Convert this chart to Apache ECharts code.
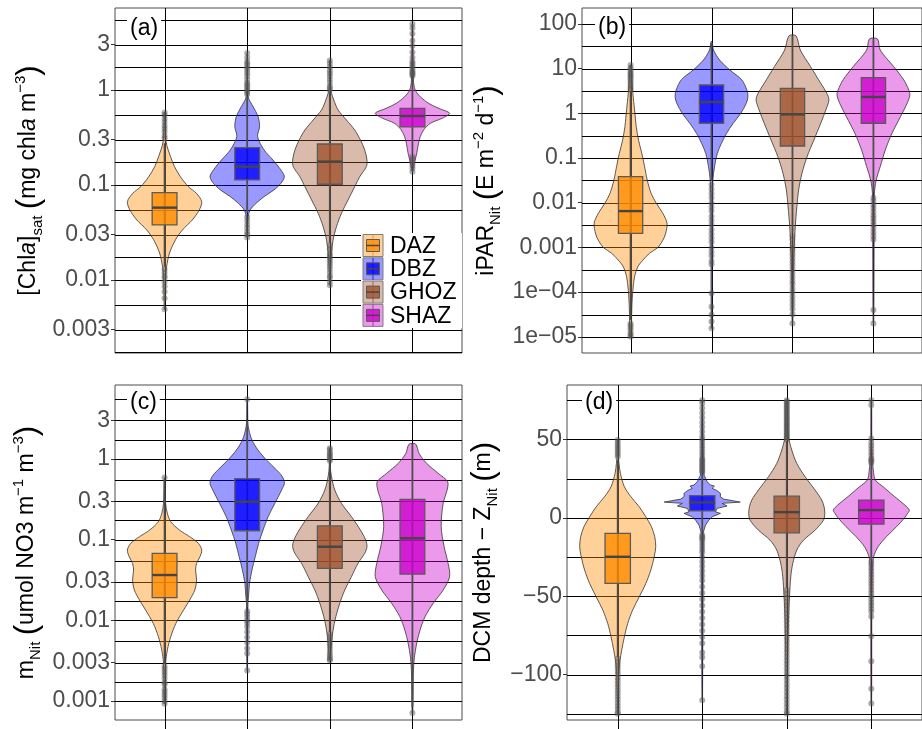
<!DOCTYPE html>
<html><head><meta charset="utf-8">
<script src="https://cdn.jsdelivr.net/npm/echarts@6/dist/echarts.min.js"></script>
<style>html,body{margin:0;padding:0;background:#fff}#c{width:922px;height:729px}</style>
</head><body><div id="c"></div>
<script>
// ---------------- DATA ----------------
const zones = ['DAZ', 'DBZ', 'GHOZ', 'SHAZ'];
const categories = [1, 2, 3, 4];

// (a) [Chla]sat : violin profiles [value, relative width]
const chlaViolinDAZ = [[0.0049,0.3],[0.0108,1],[0.0137,2],[0.0192,5],[0.0264,11],[0.0336,18],[0.0428,28],[0.0546,35],[0.0667,37.5],[0.0818,32],[0.096,24],[0.122,16],[0.156,10],[0.199,6],[0.286,1.5],[0.58,0.3]];
const chlaViolinDBZ = [[0.028,0.3],[0.0464,1],[0.0546,3],[0.0641,9],[0.0753,17],[0.0886,27],[0.104,34],[0.122,37.5],[0.144,34],[0.183,26],[0.234,17],[0.322,10.5],[0.411,12.5],[0.524,11],[0.667,6],[0.85,1],[2.45,0.3]];
const chlaViolinGHOZ = [[0.0088,0.3],[0.0138,0.7],[0.0191,1.7],[0.0264,3.3],[0.0364,6.7],[0.0504,11.7],[0.0695,18.3],[0.096,25],[0.122,30],[0.156,36.7],[0.183,37.3],[0.234,35],[0.298,30.7],[0.379,25],[0.483,16.7],[0.616,8.3],[0.785,4],[0.923,1.7],[1.08,0.5],[2.05,0.3]];
const chlaViolinSHAZ = [[0.138,0.3],[0.156,1],[0.183,2.7],[0.216,4.3],[0.275,6],[0.322,7.7],[0.379,11],[0.446,17.7],[0.503,29.3],[0.568,36.7],[0.641,26],[0.724,16],[0.85,7.7],[1.0,2.7],[1.27,1],[4.95,0.3]];
// boxes: [lower whisker, q1, median, q3, upper whisker]
const chlaBoxes = [[0.0138,0.0379,0.0577,0.083,0.275],[0.0508,0.113,0.156,0.247,0.85],[0.0245,0.1017,0.176,0.270,0.96],[0.217,0.408,0.532,0.641,1.33]];
const chlaOutDAZ = [0.31,0.33,0.36,0.39,0.42,0.46,0.5,0.55,0.58,0.013,0.012,0.011,0.0105,0.0095,0.0085,0.0075,0.0064,0.0049];
const chlaOutDBZ = [0.9,0.95,1.0,1.05,1.1,1.15,1.2,1.3,1.4,1.5,1.6,1.7,1.8,1.9,2.0,2.2,2.45,0.046,0.042,0.038,0.035,0.032,0.03,0.028];
const chlaOutGHOZ = [1.0,1.05,1.1,1.2,1.3,1.4,1.5,1.6,1.75,1.9,2.05,0.023,0.021,0.019,0.018,0.017,0.016,0.015,0.014,0.013,0.012,0.011,0.0105,0.0095,0.0088];
const chlaOutSHAZ = [1.4,1.45,1.5,1.55,1.6,1.7,1.8,1.9,2.0,2.2,2.5,2.9,3.3,3.9,4.5,4.95,0.2,0.19,0.18,0.17,0.16,0.15,0.138];
const chlaTickValues = [0.003,0.01,0.03,0.1,0.3,1,3];
const chlaTickLabels = ['0.003','0.01','0.03','0.1','0.3','1','3'];
const chlaMinorValues = [0.00173,0.00548,0.0173,0.0548,0.173,0.548,1.73,5.48];
const chlaRange = [0.0017,7.3];

// (b) iPAR_Nit
const iparViolinDAZ = [[1.0e-5,0.5],[4.7e-5,1.3],[1.1e-4,2.3],[2.2e-4,4],[3.7e-4,7.3],[5.2e-4,12.3],[7.4e-4,19],[1.0e-3,27.3],[1.45e-3,32.3],[2.0e-3,35],[3.5e-3,36.5],[5.8e-3,32.3],[9.8e-3,25.7],[0.016,20.7],[0.032,16.7],[0.065,14],[0.126,11.3],[0.25,8],[0.5,5.7],[1.2,4],[2.8,2.3],[5.6,1.3],[9.3,0.7],[12,0.3]];
const iparViolinDBZ = [[1.55e-5,0.3],[0.0115,0.7],[0.032,1.3],[0.065,3],[0.127,5.7],[0.213,9.7],[0.356,14.7],[0.6,21.3],[1.0,28.7],[1.67,34],[2.36,35.7],[3.3,34.7],[5.6,29.7],[9.3,18],[15.5,8],[26,2],[40,0.5]];
const iparViolinGHOZ = [[2e-5,0.3],[9.3e-5,0.7],[3.7e-4,1],[1.04e-3,1.7],[2.9e-3,2.7],[8.1e-3,4.3],[0.0192,6],[0.0454,9.3],[0.107,14.3],[0.253,21],[0.6,27.7],[1.19,32.7],[2.0,35.7],[2.8,33.7],[4.7,27.7],[11.1,17.7],[26,7.7],[54,3.5]];
const iparViolinSHAZ = [[2e-5,0.3],[0.00145,0.7],[0.0049,0.7],[0.0162,1],[0.032,2.7],[0.064,6.7],[0.151,11.7],[0.356,18.3],[0.84,26.7],[1.67,33.3],[2.57,36],[3.3,35],[5.6,30],[11.1,20],[26,6.7],[46,4]];
const iparBoxes = [[2.4e-5,0.00206,0.0065,0.0382,3.1],[0.031,0.6,1.79,4.3,37],[0.0021,0.186,0.95,3.6,54],[0.017,0.6,2.32,6.3,46]];
const iparOutDAZ = [3.4,3.8,4.3,4.8,5.4,6,6.6,7.2,7.8,8.5,9.5,10.5,12,2.0e-5,1.8e-5,1.6e-5,1.4e-5,1.2e-5,1.1e-5,1.0e-5];
const iparOutDBZ = [0.025,0.02,0.016,0.013,0.01,0.008,0.0065,0.005,0.004,0.0032,0.0025,0.002,0.0016,0.0013,0.001,8e-4,6.5e-4,5e-4,4.2e-4,9.5e-5,4.7e-5,3.1e-5,2.2e-5,1.55e-5];
const iparOutGHOZ = [0.0018,0.0015,0.0012,0.001,8.5e-4,7e-4,5.8e-4,4.8e-4,4e-4,3.3e-4,2.7e-4,2.2e-4,1.8e-4,1.5e-4,1.2e-4,1e-4,8e-5,6.5e-5,5.2e-5,4.2e-5,3.2e-5,2e-5];
const iparOutSHAZ = [0.013,0.011,0.009,0.0075,0.0062,0.0052,0.0045,0.0038,0.0032,0.0027,0.0022,0.0018,0.0015,4e-5,2e-5];
const iparTickValues = [1e-5,1e-4,0.001,0.01,0.1,1,10,100];
const iparTickLabels = ['1e\u221205','1e\u221204','0.001','0.01','0.1','1','10','100'];
const iparMinorValues = [3.16e-5,3.16e-4,3.16e-3,0.0316,0.316,3.16,31.6];
const iparRange = [4.35e-6,227];

// (c) m_Nit
const mnitViolinDAZ = [[9.3e-4,0.3],[0.0029,1],[0.0043,2.7],[0.0063,6],[0.0092,11],[0.0134,18.3],[0.0179,24.3],[0.0238,29.3],[0.0316,31],[0.0421,30],[0.0509,31],[0.0617,34.3],[0.0745,36],[0.0902,32.7],[0.109,24.3],[0.132,14.3],[0.167,6],[0.212,2.7],[0.282,1],[0.59,0.3]];
const mnitViolinDBZ = [[0.0024,0.3],[0.0163,0.7],[0.0196,1.3],[0.0288,2.3],[0.0421,4.7],[0.0617,8],[0.0902,11.3],[0.132,15.7],[0.193,20.7],[0.282,27.3],[0.413,34],[0.499,36.7],[0.604,34.7],[0.731,29],[0.973,19],[1.29,10.7],[1.72,4.7],[2.29,1.7],[2.77,0.7],[5.5,0.3]];
const mnitViolinGHOZ = [[0.0032,0.3],[0.0035,0.7],[0.0052,1.7],[0.0076,3.3],[0.0111,6],[0.0163,10],[0.0238,15],[0.0348,21.7],[0.0509,28.3],[0.0677,35],[0.0818,37.3],[0.099,36],[0.132,30.7],[0.193,21.7],[0.282,11.7],[0.413,5],[0.604,1.7],[0.804,0.5],[1.36,0.3]];
const mnitViolinSHAZ = [[7.1e-4,0.3],[0.00137,0.7],[0.0024,1],[0.0035,2],[0.0052,4.3],[0.0076,7.7],[0.0111,12.7],[0.0163,21],[0.0238,31],[0.0348,37.5],[0.0509,36],[0.0818,32],[0.145,29],[0.282,31],[0.413,35],[0.524,35.5],[0.664,26],[0.883,14.3],[1.17,6.7],[1.53,3.3]];
const mnitBoxes = [[0.0029,0.0191,0.0365,0.0677,0.55],[0.0145,0.129,0.296,0.57,3.0],[0.0072,0.0442,0.0818,0.148,0.9],[8.5e-4,0.0375,0.104,0.316,1.53]];
const mnitOutDAZ = [0.59,0.0027,0.0025,0.0023,0.0021,0.0019,0.0017,0.0016,0.0014,0.0013,0.0012,0.0011,0.001,0.00093];
const mnitOutDBZ = [5.5,0.013,0.012,0.011,0.01,0.0092,0.0083,0.0072,0.0062,0.0053,0.0045,0.0039,0.0024];
const mnitOutGHOZ = [0.95,1.0,1.05,1.1,1.15,1.2,1.3,1.36,0.0068,0.0062,0.0057,0.0052,0.0048,0.0044,0.004,0.0037,0.0035,0.0033,0.0032];
const mnitOutSHAZ = [7.1e-4];
const mnitTickValues = [0.001,0.003,0.01,0.03,0.1,0.3,1,3];
const mnitTickLabels = ['0.001','0.003','0.01','0.03','0.1','0.3','1','3'];
const mnitMinorValues = [0.00173,0.00548,0.0173,0.0548,0.173,0.548,1.73,5.48];
const mnitRange = [5.83e-4,8.26];

// (d) DCM depth - Z_Nit
const dcmViolinDAZ = [[-124.9,0.3],[-118.5,0.3],[-107.9,0.7],[-97.3,1.3],[-90.9,2.3],[-84.5,4],[-76,6.7],[-67.5,10],[-58.9,15],[-50.4,21.7],[-41.9,28.3],[-33.4,33.3],[-24.9,36.7],[-18.5,38.3],[-12.1,37.3],[-5.7,34],[0.6,28.3],[7.0,21.7],[13.4,13.3],[19.8,6.7],[28.3,2.7],[34.7,1.3],[38.9,0.7],[49.6,0.3]];
const dcmViolinDBZ = [[-116.4,0.3],[-10,1],[-7.9,1.7],[-4.7,3.3],[-1.5,6.7],[0.6,10],[2.8,18.3],[3.8,13.3],[6.0,15],[7.5,25],[9.2,20],[10.0,38.3],[11.9,21.7],[13.4,18.3],[15.6,18.3],[17.3,15],[18.8,10],[20.2,12.3],[20.9,8.3],[23.0,5],[27,2],[30.5,1.2],[75,0.3]];
const dcmViolinGHOZ = [[-124.9,0.3],[-107.9,0.7],[-86.6,1],[-65.3,1.7],[-50.4,2.7],[-37.7,4],[-29.2,6],[-20.6,10],[-14.3,16.7],[-7.9,28.3],[-1.5,36.7],[2.8,38],[7.0,37.3],[11.3,35],[17.7,28.3],[26.2,18.3],[34.7,10],[43.2,5],[51.7,1.7],[62.4,1],[75.1,0.5]];
const dcmViolinSHAZ = [[-118.5,0.3],[-60,0.5],[-44,0.7],[-33.4,1],[-24.9,2.3],[-18.5,6.7],[-12.1,15],[-5.7,25],[0,33],[2.8,36],[4.9,37.7],[8.1,33.3],[13.4,23.3],[19.8,11.7],[24.1,4],[30.4,2],[40,0.8],[50,0.5],[75,0.3]];
const dcmBoxes = [[-89,-41.9,-24.9,-10,37],[-10,4.4,9.8,14.1,28],[-44.7,-9.6,3.6,13.8,48.9],[-27,-4.0,4.9,11.3,34]];
const dcmOutDAZ = [39,40.5,42,43.5,45,46.5,48,49.6,-90,-92,-94,-96,-98,-100,-102,-104,-106,-108,-110,-112,-114,-116,-118,-120,-122,-124,-125];
const dcmOutDBZ = [29,30,31,32,33,34,35,36,37,38,40,42,44,46,48,50,52,55,58,61,64,67,70,73,75,-11,-12,-13,-14,-16,-18,-20,-22,-25,-28,-31,-34,-37,-40,-44,-48,-52,-56,-60,-64,-68,-72,-76,-80,-86,-89,-94.7,-116.4];
const dcmOutGHOZ = [50,51,52,53,54,55,56,57,58,59,60,61,62,63,64,65,66,67,68,69,70,71,72,73,74,75,-46,-48.5,-51,-53.5,-56,-58.5,-61,-63.5,-66,-68.5,-71,-73.5,-76,-78.5,-81,-83.5,-86,-88.5,-91,-93.5,-96,-98.5,-101,-103.5,-106,-108.5,-111,-113.5,-116,-118.5,-121,-123.5,-125];
const dcmOutSHAZ = [35,36,37,38,40,42,44,46,48,50.6,72,75,-28,-30,-32,-34,-36,-38,-40,-42,-44,-46,-48,-50,-52,-54,-56,-58,-60,-63,-75.5,-91.5,-109,-118.5];
const dcmTickValues = [-100,-50,0,50];
const dcmTickLabels = ['\u2212100','\u221250','0','50'];
const dcmMinorValues = [-125,-75,-25,25,75];
const dcmRange = [-129,84.7];

// ---------------- STYLE ----------------
const FONT = 'Liberation Sans, Arial, Helvetica, sans-serif';
const zoneRGB = [[255,140,0],[0,0,255],[160,82,45],[205,0,205]];
const rgba = (k, a) => 'rgba(' + zoneRGB[k].join(',') + ',' + a + ')';
const VIOLIN_HALF = 0.45, BOX_HALF = 0.15, XMIN = 0.4, XMAX = 4.6;

const richName = {
  t: {fontSize: 23, fontFamily: FONT, color: '#000', lineHeight: 32},
  i: {fontSize: 23, fontFamily: FONT, color: '#000', fontStyle: 'italic', lineHeight: 32},
  s: {fontSize: 15, fontFamily: FONT, color: '#000', verticalAlign: 'bottom', lineHeight: 15},
  u: {fontSize: 15, fontFamily: FONT, color: '#000', verticalAlign: 'top', lineHeight: 15},
  p: {fontSize: 31, fontFamily: FONT, color: '#000', lineHeight: 32}
};

const panels = [
  {violins: [chlaViolinDAZ, chlaViolinDBZ, chlaViolinGHOZ, chlaViolinSHAZ], boxes: chlaBoxes,
   outliers: [chlaOutDAZ, chlaOutDBZ, chlaOutGHOZ, chlaOutSHAZ], log: true,
   ticks: chlaTickValues, labels: chlaTickLabels, minors: chlaMinorValues, range: chlaRange,
   grid: {left: 115, top: 8, width: 347, height: 345}, nameGap: 70, bottomTicks: false,
   name: '{t|[Chl}{i|a}{t|]}{s|sat}{t| }{p|(}{t|mg chl}{i|a}{t| m}{u|\u22123}{p|)}',
   smooth: [0.3,0.3,0.3,0.3]},
  {violins: [iparViolinDAZ, iparViolinDBZ, iparViolinGHOZ, iparViolinSHAZ], boxes: iparBoxes,
   outliers: [iparOutDAZ, iparOutDBZ, iparOutGHOZ, iparOutSHAZ], log: true,
   ticks: iparTickValues, labels: iparTickLabels, minors: iparMinorValues, range: iparRange,
   grid: {left: 582, top: 8, width: 340, height: 345}, nameGap: 79, bottomTicks: false,
   name: '{t|iPAR}{s|Nit}{t| }{p|(}{t|E m}{u|\u22122}{t| d}{u|\u22121}{p|)}',
   smooth: [0.3,0.3,0.3,0.3]},
  {violins: [mnitViolinDAZ, mnitViolinDBZ, mnitViolinGHOZ, mnitViolinSHAZ], boxes: mnitBoxes,
   outliers: [mnitOutDAZ, mnitOutDBZ, mnitOutGHOZ, mnitOutSHAZ], log: true,
   ticks: mnitTickValues, labels: mnitTickLabels, minors: mnitMinorValues, range: mnitRange,
   grid: {left: 115, top: 385, width: 347, height: 335}, nameGap: 72, bottomTicks: true,
   name: '{t|m}{s|Nit}{t| }{p|(}{t|umol NO3 m}{u|\u22121}{t| m}{u|\u22123}{p|)}',
   smooth: [0.3,0.3,0.3,0.3]},
  {violins: [dcmViolinDAZ, dcmViolinDBZ, dcmViolinGHOZ, dcmViolinSHAZ], boxes: dcmBoxes,
   outliers: [dcmOutDAZ, dcmOutDBZ, dcmOutGHOZ, dcmOutSHAZ], log: false,
   ticks: dcmTickValues, labels: dcmTickLabels, minors: dcmMinorValues, range: dcmRange,
   grid: {left: 567, top: 385, width: 355, height: 335}, nameGap: 67, bottomTicks: true,
   name: '{t|DCM depth \u2212 Z}{s|Nit}{t| }{p|(}{t|m}{p|)}',
   smooth: [0.3,0,0.3,0.3]}
];

const option = {animation: false, backgroundColor: '#fff', grid: [], xAxis: [], yAxis: [], series: [], graphic: []};

panels.forEach((P, pi) => {
  const tf = P.log ? (v => Math.log10(v)) : (v => v);
  const tickT = P.ticks.map(tf);
  option.grid.push(Object.assign({show: true, borderColor: '#4d4d4d', borderWidth: 1, backgroundColor: 'transparent'}, P.grid));
  option.xAxis.push({gridIndex: pi, type: 'value', min: XMIN, max: XMAX,
    axisLine: {show: false}, axisTick: {show: false}, axisLabel: {show: false}, splitLine: {show: false}});
  option.yAxis.push({gridIndex: pi, type: 'value', min: tf(P.range[0]), max: tf(P.range[1]),
    axisLine: {show: false}, splitLine: {show: false},
    axisTick: {show: true, customValues: tickT, length: 4, lineStyle: {color: '#333', width: 1}},
    axisLabel: {customValues: tickT, fontSize: 23, fontFamily: FONT, color: '#4d4d4d', margin: 5,
      formatter: v => { const k = tickT.findIndex(t => Math.abs(t - v) < 1e-6); return k >= 0 ? P.labels[k] : ''; }},
    name: P.name, nameLocation: 'middle', nameRotate: 90, nameGap: P.nameGap,
    nameTextStyle: {fontSize: 23, fontFamily: FONT, color: '#000', rich: richName}});

  const hLines = P.ticks.concat(P.minors).map(v => [1, tf(v)]);
  option.series.push({type: 'custom', xAxisIndex: pi, yAxisIndex: pi, z: 1, silent: true,
    data: hLines, encode: {x: 0, y: 1},
    renderItem: (params, api) => {
      const cs = params.coordSys; const y = Math.round(api.coord([1, api.value(1)])[1]) + 0.5;
      return {type: 'line', shape: {x1: cs.x, y1: y, x2: cs.x + cs.width, y2: y}, style: {stroke: '#000', lineWidth: 1}};
    }});
  option.series.push({type: 'custom', xAxisIndex: pi, yAxisIndex: pi, z: 1, silent: true,
    data: categories.map(c => [c, tf(P.ticks[0])]), encode: {x: 0, y: 1},
    renderItem: (params, api) => {
      const cs = params.coordSys; const x = Math.round(api.coord([api.value(0), 0])[0]) + 0.5;
      return {type: 'line', shape: {x1: x, y1: cs.y, x2: x, y2: cs.y + cs.height + (P.bottomTicks ? 10 : 0)}, style: {stroke: '#000', lineWidth: 1}};
    }});
  // violins
  option.series.push({type: 'custom', xAxisIndex: pi, yAxisIndex: pi, z: 2, silent: true,
    data: categories.map(c => [c, tf(P.boxes[c - 1][2])]), encode: {x: 0, y: 1},
    renderItem: (params, api) => {
      const c = api.value(0), k = c - 1, prof = P.violins[k];
      const maxW = Math.max.apply(null, prof.map(p => p[1]));
      const left = prof.map(p => api.coord([c - VIOLIN_HALF * p[1] / maxW, tf(p[0])]));
      const right = prof.slice().reverse().map(p => api.coord([c + VIOLIN_HALF * p[1] / maxW, tf(p[0])]));
      return {type: 'polygon', shape: {points: left.concat(right), smooth: P.smooth[k]},
        style: {fill: rgba(k, 0.4), stroke: '#333', lineWidth: 0.8}};
    }});
  // whiskers
  option.series.push({type: 'custom', xAxisIndex: pi, yAxisIndex: pi, z: 3, silent: true,
    data: categories.map(c => [c, tf(P.boxes[c - 1][0]), tf(P.boxes[c - 1][4])]), encode: {x: 0, y: [1, 2]},
    renderItem: (params, api) => {
      const c = api.value(0); const a = api.coord([c, api.value(1)]), b = api.coord([c, api.value(2)]);
      return {type: 'line', shape: {x1: a[0], y1: a[1], x2: b[0], y2: b[1]}, style: {stroke: '#4d4d4d', lineWidth: 1.8}};
    }});
  // outliers
  const outData = [];
  P.outliers.forEach((arr, k) => arr.forEach(v => outData.push([k + 1, tf(v)])));
  option.series.push({type: 'scatter', xAxisIndex: pi, yAxisIndex: pi, z: 4, silent: true,
    data: outData, symbol: 'circle', symbolSize: 6, itemStyle: {color: 'rgba(85,85,85,0.6)'}});
  // boxes
  option.series.push({type: 'custom', xAxisIndex: pi, yAxisIndex: pi, z: 5, silent: true,
    data: categories.map(c => [c, tf(P.boxes[c - 1][1]), tf(P.boxes[c - 1][2]), tf(P.boxes[c - 1][3])]), encode: {x: 0, y: [1, 2, 3]},
    renderItem: (params, api) => {
      const c = api.value(0), k = c - 1;
      const p1 = api.coord([c - BOX_HALF, api.value(3)]), p2 = api.coord([c + BOX_HALF, api.value(1)]);
      const m1 = api.coord([c - BOX_HALF, api.value(2)]), m2 = api.coord([c + BOX_HALF, api.value(2)]);
      return {type: 'group', children: [
        {type: 'rect', shape: {x: p1[0], y: p1[1], width: p2[0] - p1[0], height: p2[1] - p1[1]},
         style: {fill: rgba(k, 0.8), stroke: '#5a5a5a', lineWidth: 1.3}},
        {type: 'line', shape: {x1: m1[0], y1: m1[1], x2: m2[0], y2: m2[1]}, style: {stroke: '#454545', lineWidth: 2.4}}
      ]};
    }});
});

// panel tags
const tags = [['(a)', 127, 29], ['(b)', 595, 28], ['(c)', 127, 403], ['(d)', 582, 403]];
tags.forEach(t => option.graphic.push({type: 'text', x: t[1], y: t[2], z: 100,
  style: {text: t[0], fontSize: 23, fontFamily: FONT, fill: '#000', backgroundColor: '#fff', padding: [1, 3, 1, 3], align: 'left', verticalAlign: 'middle'}}));

// legend (panel a)
const legend = [{type: 'rect', shape: {x: 361, y: 233, width: 101, height: 95}, style: {fill: '#fff'}, z: 100}];
zones.forEach((z, k) => {
  const cy = 245.5 + k * 23.3;
  legend.push({type: 'rect', z: 101, shape: {x: 363, y: cy - 11, width: 20, height: 22}, style: {fill: rgba(k, 0.4), stroke: '#7f7f7f', lineWidth: 1}});
  legend.push({type: 'line', z: 102, shape: {x1: 373, y1: cy - 11, x2: 373, y2: cy + 11}, style: {stroke: rgba(k, 0.8), lineWidth: 1}});
  legend.push({type: 'rect', z: 103, shape: {x: 366.5, y: cy - 6, width: 13, height: 12}, style: {fill: rgba(k, 0.8), stroke: '#5a5a5a', lineWidth: 1}});
  legend.push({type: 'line', z: 104, shape: {x1: 366.5, y1: cy, x2: 379.5, y2: cy}, style: {stroke: '#454545', lineWidth: 1.5}});
  legend.push({type: 'text', z: 104, x: 390, y: cy + 1, style: {text: z, fontSize: 23, fontFamily: FONT, fill: '#000', align: 'left', verticalAlign: 'middle'}});
});
option.graphic.push({type: 'group', children: legend});

const chart = echarts.init(document.getElementById('c'), null, {renderer: 'canvas'});
chart.setOption(option);
</script></body></html>
